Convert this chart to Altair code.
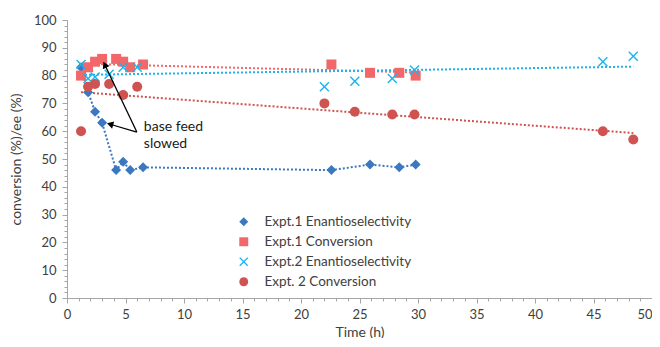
import altair as alt
import pandas as pd

# ---------------- data ----------------
series_names = ["Expt.1 Enantioselectivity", "Expt.1 Conversion",
                "Expt.2 Enantioselectivity", "Expt. 2 Conversion"]

e1_time = [1.2, 1.8, 2.4, 3.0, 4.2, 4.8, 5.4, 6.5, 22.6, 25.9, 28.4, 29.8]
e1_ee = [83, 74, 67, 63, 46, 49, 46, 47, 46, 48, 47, 48]
e1_conv = [80, 83, 85, 86, 86, 85, 83, 84, 84, 81, 81, 80]

e2_time = [1.2, 1.8, 2.4, 3.6, 4.8, 6.0, 22.0, 24.6, 27.8, 29.7, 45.8, 48.4]
e2_ee = [84, 79, 79.5, 80.5, 83, 83, 76, 78, 79, 82, 85, 87]
e2_conv = [60, 76, 77, 77, 73, 76, 70, 67, 66, 66, 60, 57]

x_ticks = list(range(0, 51, 5))
y_ticks = list(range(0, 101, 10))

note_lines = ["base feed", "slowed"]
note_x = [6.57, 6.57]
note_y = [61.6, 55.3]

arrow_start = (5.97, 59.7)
arrow1_tip = (3.23, 83.9)
arrow2_tip = (3.68, 62.5)

# ---------------- build tables ----------------
rows = []
for name, ts, vs in [(series_names[0], e1_time, e1_ee),
                     (series_names[1], e1_time, e1_conv),
                     (series_names[2], e2_time, e2_ee),
                     (series_names[3], e2_time, e2_conv)]:
    for t, v in zip(ts, vs):
        rows.append({"series": name, "t": t, "v": v})
df = pd.DataFrame(rows)

notes = pd.DataFrame({"t": note_x, "v": note_y, "label": note_lines})
arrows = pd.DataFrame({
    "t": [arrow_start[0], arrow_start[0]],
    "v": [arrow_start[1], arrow_start[1]],
    "t2": [arrow1_tip[0], arrow2_tip[0]],
    "v2": [arrow1_tip[1], arrow2_tip[1]],
})
head1 = pd.DataFrame({"t": [arrow1_tip[0]], "v": [arrow1_tip[1]]})
head2 = pd.DataFrame({"t": [arrow2_tip[0]], "v": [arrow2_tip[1]]})

colors = ["#3B78BF", "#F2676A", "#1CB4EA", "#CF5350"]
x_path = "M-1,-0.8L-0.8,-1L0,-0.2L0.8,-1L1,-0.8L0.2,0L1,0.8L0.8,1L0,0.2L-0.8,1L-1,0.8L-0.2,0Z"
shapes = ["diamond", "square", x_path, "circle"]

FONT = "Lato"
TXT = "#404040"
AX = "#A6A6A6"

xscale = alt.Scale(domain=[0, 50], nice=False, zero=False)
yscale = alt.Scale(domain=[0, 100], nice=False)

x_axis = alt.Axis(values=x_ticks, format="d", title="Time (h)", orient="bottom",
                  grid=False, domainColor=AX, tickColor=AX, tickSize=5,
                  labelFont=FONT, labelFontSize=13, labelColor=TXT, labelPadding=5,
                  labelAlign=alt.ExprRef(expr="datum.value == 50 ? 'right' : 'center'"),
                  titleFont=FONT, titleFontSize=14, titleColor=TXT,
                  titleFontWeight="normal", titlePadding=4)
y_axis = alt.Axis(values=y_ticks, format="d", title="conversion (%)/ee (%)", orient="left",
                  grid=False, domainColor=AX, tickColor=AX, tickSize=5,
                  labelFont=FONT, labelFontSize=13, labelColor=TXT, labelPadding=6,
                  titleFont=FONT, titleFontSize=14, titleColor=TXT,
                  titleFontWeight="normal", titlePadding=10)
x_minor = alt.Axis(values=list(range(0, 51, 1)), labels=False, title=None, orient="bottom",
                   grid=False, domain=False, tickColor=AX, tickSize=3)
y_minor = alt.Axis(values=list(range(0, 101, 2)), labels=False, title=None, orient="left",
                   grid=False, domain=False, tickColor=AX, tickSize=3)

legend = alt.Legend(title=None, orient="none", legendX=170, legendY=195,
                    labelFont=FONT, labelFontSize=13.5, labelColor=TXT,
                    symbolSize=80, labelOffset=14, rowPadding=5, padding=0)

dot = [2, 2]

base = alt.Chart(df)

e1_line = base.transform_filter(alt.datum.series == series_names[0]).mark_line(
    color=colors[0], strokeDash=dot, strokeWidth=2).encode(
    x=alt.X("t:Q", scale=xscale, axis=x_minor),
    y=alt.Y("v:Q", scale=yscale, axis=y_minor))

def reg_line(i):
    return base.transform_filter(alt.datum.series == series_names[i]).transform_regression(
        "t", "v").mark_line(color=colors[i], strokeDash=dot, strokeWidth=2).encode(
        x=alt.X("t:Q", scale=xscale, axis=None),
        y=alt.Y("v:Q", scale=yscale, axis=None))

points = base.mark_point(filled=True, size=100, opacity=1).encode(
    x=alt.X("t:Q", scale=xscale, axis=x_axis),
    y=alt.Y("v:Q", scale=yscale, axis=y_axis),
    color=alt.Color("series:N", scale=alt.Scale(domain=series_names, range=colors), legend=legend),
    shape=alt.Shape("series:N", scale=alt.Scale(domain=series_names, range=shapes), legend=legend),
)

text = alt.Chart(notes).mark_text(align="left", baseline="middle", font=FONT,
                                  fontSize=14, color="#1A1A1A").encode(
    x=alt.X("t:Q", scale=xscale, axis=None),
    y=alt.Y("v:Q", scale=yscale, axis=None),
    text="label:N")

rules = alt.Chart(arrows).mark_rule(color="black", strokeWidth=1.3).encode(
    x=alt.X("t:Q", scale=xscale, axis=None),
    y=alt.Y("v:Q", scale=yscale, axis=None),
    x2="t2:Q", y2="v2:Q")

h1 = alt.Chart(head1).mark_point(shape="triangle-up", filled=True, size=55, color="black",
                                 opacity=1, angle=334).encode(
    x=alt.X("t:Q", scale=xscale, axis=None),
    y=alt.Y("v:Q", scale=yscale, axis=None))
h2 = alt.Chart(head2).mark_point(shape="triangle-up", filled=True, size=55, color="black",
                                 opacity=1, angle=286).encode(
    x=alt.X("t:Q", scale=xscale, axis=None),
    y=alt.Y("v:Q", scale=yscale, axis=None))

chart = alt.layer(e1_line, reg_line(1), reg_line(2), reg_line(3), points, rules, h1, h2, text
                  ).resolve_axis(x="independent", y="independent").properties(
    width=585, height=278,
    autosize=alt.AutoSizeParams(type="none"),
    padding={"left": 59, "top": 12, "right": 0, "bottom": 40},
    background="white",
).configure_view(stroke=None)

chart.save("out.html", embed_options={"renderer": "svg", "actions": False})
